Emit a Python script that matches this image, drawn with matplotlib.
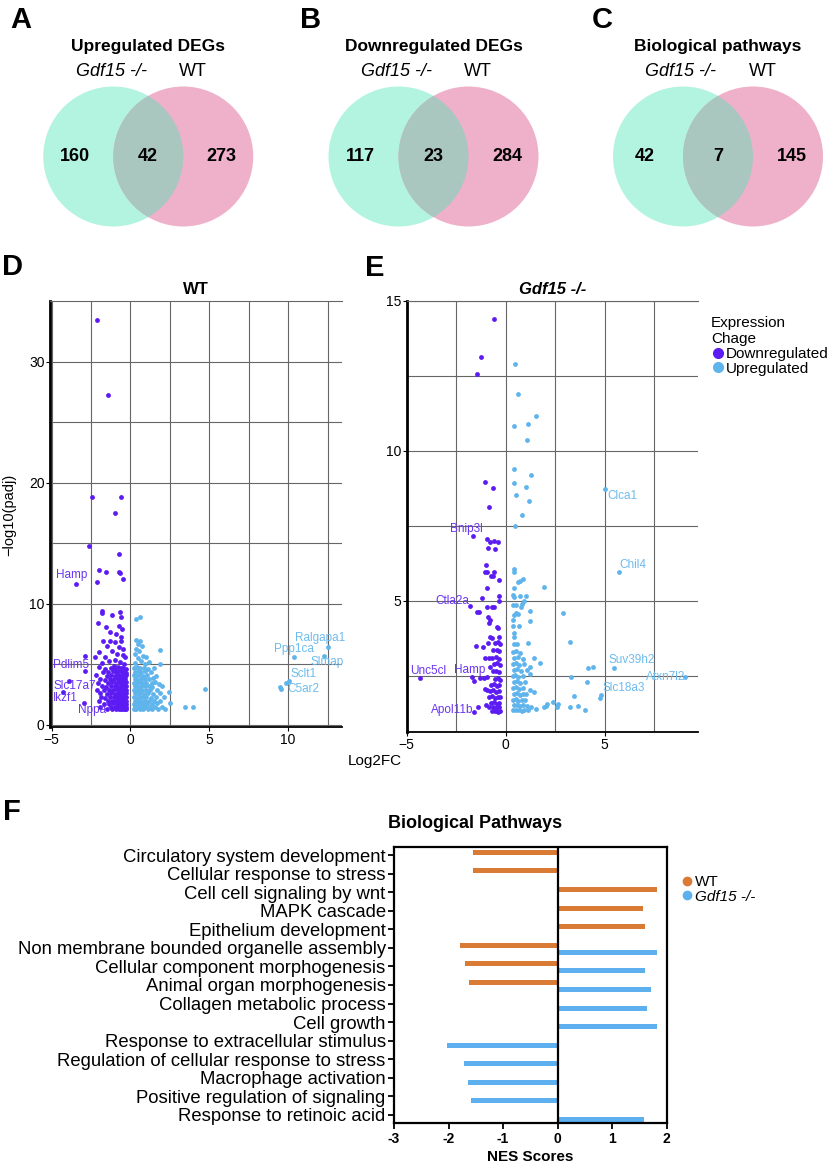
#!/usr/bin/env python3
"""Venn diagrams, volcano plots and NES bar chart for Gdf15 -/- vs WT."""

import numpy as np
import matplotlib.pyplot as plt
from matplotlib.patches import Circle
from matplotlib.lines import Line2D

plt.rcParams["font.family"] = ["Liberation Sans", "DejaVu Sans"]

# ---------------- data ----------------
# Venn counts (Gdf15 only, shared, WT only)
venn_titles = ["Upregulated DEGs", "Downregulated DEGs", "Biological pathways"]
venn_left = [160, 117, 42]
venn_shared = [42, 23, 7]
venn_right = [273, 284, 145]

# WT volcano: (log2FC, -log10 padj)
wt_down = [
    (-2.15, 33.4), (-1.39, 27.2), (-2.41, 18.85), (-0.61, 18.85), (-0.99, 17.5),
    (-2.64, 14.8), (-0.70, 14.1), (-1.99, 12.8), (-1.52, 12.65), (-0.72, 12.6),
    (-0.63, 12.55), (-2.09, 11.8), (-0.49, 12.06), (-3.43, 11.6),
    (-1.80, 9.40), (-1.83, 9.25), (-1.18, 9.07), (-0.68, 9.30), (-0.60, 8.90),
    (-2.07, 8.40), (-1.55, 8.1), (-0.70, 8.2), (-0.55, 7.9), (-1.30, 7.7),
    (-0.90, 7.5), (-0.62, 7.3), (-1.75, 6.9), (-1.30, 6.95), (-0.95, 6.85),
    (-0.58, 6.9), (-1.50, 6.5), (-0.75, 6.4), (-0.45, 6.3), (-2.00, 6.0),
    (-1.15, 6.1), (-0.85, 5.9), (-0.50, 5.8), (-1.60, 5.6), (-0.35, 5.6),
    (-1.35, 5.3), (-0.95, 5.4), (-0.65, 5.2), (-0.40, 5.0), (-1.80, 5.1),
    (-1.05, 4.9), (-2.85, 5.7), (-2.26, 5.63), (-2.89, 4.45), (-3.90, 3.65),
    (-4.27, 2.75), (-2.96, 1.84),
    (-2.0, 4.75), (-1.6, 4.65), (-1.25, 4.72), (-1.0, 4.6), (-0.8, 4.75),
    (-0.6, 4.68), (-0.45, 4.7), (-0.3, 4.62),
    (-1.75, 4.4), (-1.4, 4.35), (-1.1, 4.45), (-0.9, 4.38), (-0.7, 4.42),
    (-0.55, 4.35), (-0.4, 4.4), (-0.28, 4.33),
    (-2.2, 4.1), (-1.5, 4.05), (-1.2, 4.12), (-0.95, 4.05), (-0.8, 4.1),
    (-0.65, 4.02), (-0.5, 4.1), (-0.35, 4.05), (-0.27, 4.12),
    (-1.9, 3.8), (-1.6, 3.75), (-1.3, 3.82), (-1.05, 3.78), (-0.85, 3.85),
    (-0.7, 3.75), (-0.58, 3.8), (-0.45, 3.76), (-0.32, 3.82),
    (-2.05, 3.5), (-1.45, 3.45), (-1.15, 3.52), (-0.9, 3.48), (-0.75, 3.55),
    (-0.62, 3.45), (-0.5, 3.5), (-0.38, 3.46), (-0.27, 3.52),
    (-1.8, 3.2), (-1.55, 3.15), (-1.25, 3.22), (-1.0, 3.18), (-0.82, 3.25),
    (-0.68, 3.15), (-0.55, 3.2), (-0.42, 3.16), (-0.3, 3.22),
    (-2.15, 2.9), (-1.7, 2.85), (-1.35, 2.92), (-1.1, 2.88), (-0.9, 2.95),
    (-0.75, 2.85), (-0.6, 2.9), (-0.48, 2.86), (-0.35, 2.92), (-0.26, 2.88),
    (-1.95, 2.6), (-1.5, 2.55), (-1.2, 2.62), (-0.98, 2.58), (-0.8, 2.65),
    (-0.66, 2.55), (-0.53, 2.6), (-0.4, 2.56), (-0.29, 2.62),
    (-1.85, 2.3), (-1.6, 2.25), (-1.3, 2.32), (-1.05, 2.28), (-0.88, 2.35),
    (-0.72, 2.25), (-0.58, 2.3), (-0.45, 2.26), (-0.33, 2.32), (-0.26, 2.28),
    (-2.0, 2.0), (-1.45, 1.95), (-1.15, 2.02), (-0.95, 1.98), (-0.78, 2.05),
    (-0.63, 1.95), (-0.5, 2.0), (-0.38, 1.96), (-0.28, 2.02),
    (-1.7, 1.75), (-1.35, 1.72), (-1.08, 1.78), (-0.88, 1.74), (-0.7, 1.8),
    (-0.56, 1.72), (-0.43, 1.76), (-0.31, 1.73),
    (-1.9, 1.5), (-1.25, 1.48), (-1.0, 1.52), (-0.8, 1.5), (-0.65, 1.55),
    (-0.52, 1.47), (-0.4, 1.5), (-0.29, 1.48),
    (-1.5, 1.32), (-1.15, 1.33), (-0.92, 1.31), (-0.74, 1.34), (-0.6, 1.32),
    (-0.47, 1.33), (-0.35, 1.31), (-0.27, 1.33),
]
wt_up = [
    (0.38, 8.74), (0.59, 8.93), (1.85, 6.18), (1.90, 5.0), (1.43, 3.85),
    (1.80, 3.4), (2.43, 2.7), (2.49, 1.79), (2.21, 1.32), (3.44, 1.48),
    (4.00, 1.48), (4.70, 3.0), (12.5, 6.4), (10.4, 5.58), (12.3, 5.69),
    (10.04, 3.63), (9.87, 3.43), (9.51, 3.1), (9.55, 2.97),
    (0.38, 7.0), (0.60, 6.9), (0.45, 6.7), (0.75, 6.5), (0.35, 6.3),
    (0.55, 6.1), (1.01, 5.63), (0.30, 5.9), (0.80, 5.7), (0.45, 5.5),
    (0.65, 5.3), (1.20, 5.2), (0.30, 5.1), (0.90, 5.0),
    (0.25, 4.7), (0.4, 4.75), (0.6, 4.68), (0.85, 4.72), (1.1, 4.65), (1.5, 4.7),
    (0.3, 4.4), (0.5, 4.45), (0.7, 4.38), (0.95, 4.42), (1.3, 4.35),
    (0.22, 4.1), (0.38, 4.05), (0.55, 4.12), (0.8, 4.08), (1.05, 4.1), (1.6, 4.02),
    (0.28, 3.8), (0.45, 3.75), (0.65, 3.82), (0.9, 3.78), (1.2, 3.8),
    (0.24, 3.5), (0.4, 3.45), (0.58, 3.52), (0.78, 3.48), (1.0, 3.5),
    (1.35, 3.45), (1.55, 3.52),
    (0.3, 3.2), (0.48, 3.15), (0.68, 3.22), (0.9, 3.18), (1.15, 3.2),
    (1.4, 3.15), (2.0, 3.2),
    (0.22, 2.9), (0.38, 2.85), (0.55, 2.92), (0.75, 2.88), (0.98, 2.9),
    (1.25, 2.85), (1.7, 2.92),
    (0.28, 2.6), (0.45, 2.55), (0.62, 2.62), (0.85, 2.58), (1.1, 2.6),
    (1.45, 2.55), (1.9, 2.62),
    (0.23, 2.3), (0.4, 2.25), (0.58, 2.32), (0.78, 2.28), (1.0, 2.3),
    (1.3, 2.25), (1.65, 2.32), (2.15, 2.28),
    (0.3, 2.0), (0.48, 1.95), (0.68, 2.02), (0.9, 1.98), (1.15, 2.0),
    (1.5, 1.95), (1.85, 2.02),
    (0.24, 1.75), (0.4, 1.72), (0.6, 1.78), (0.8, 1.74), (1.05, 1.76),
    (1.35, 1.72), (1.7, 1.78),
    (0.3, 1.5), (0.48, 1.48), (0.7, 1.52), (0.95, 1.5), (1.25, 1.48),
    (1.55, 1.52), (2.0, 1.5),
    (0.22, 1.32), (0.38, 1.33), (0.58, 1.31), (0.8, 1.34), (1.1, 1.32),
    (1.4, 1.33), (1.75, 1.31),
]
wt_label_names = ["Hamp", "Pdlim5", "Slc17a7", "Ikzf1", "Nppa",
                  "Ralgapa1", "Ppp1ca", "Slmap", "Sclt1", "C5ar2"]
wt_label_x = [-4.73, -4.9, -4.9, -4.9, -3.3, 10.46, 9.09, 11.45, 10.15, 9.97]
wt_label_y = [12.34, 4.95, 3.25, 2.2, 1.2, 7.15, 6.24, 5.22, 4.18, 2.97]
wt_label_down = [True, True, True, True, True, False, False, False, False, False]

# Gdf15 -/- volcano
ko_down = [
    (-0.57, 14.39), (-1.24, 13.13), (-1.43, 12.56), (-1.06, 8.98), (-0.64, 8.76),
    (-0.84, 8.13), (-1.67, 7.18), (-0.94, 7.06), (-0.77, 6.98), (-0.60, 7.0),
    (-0.40, 6.96), (-0.87, 6.78), (-0.52, 6.73), (-0.99, 6.2), (-1.02, 5.96),
    (-0.94, 5.96), (-0.60, 5.96), (-0.65, 5.83), (-0.72, 5.83), (-0.35, 5.69),
    (-0.94, 5.43), (-1.18, 5.09), (-1.78, 4.84), (-1.44, 4.62), (-1.36, 4.62),
    (-0.94, 4.81), (-0.35, 5.17), (-0.35, 5.0), (-0.60, 4.81), (-0.69, 4.79),
    (-0.89, 4.48), (-0.77, 4.37), (-0.86, 4.28), (-0.43, 4.12), (-0.37, 4.1),
    (-0.81, 3.81), (-0.69, 3.78), (-0.32, 3.8),
    (-4.31, 2.42), (-1.62, 2.33), (-1.70, 2.48), (-1.28, 2.42), (-1.11, 2.42),
    (-0.94, 2.48), (-1.62, 1.31), (-1.41, 1.46), (-1.48, 3.5), (-1.14, 3.48),
    (-0.89, 3.6), (-1.02, 3.09), (-0.86, 3.09), (-0.77, 2.8), (-0.94, 2.03),
    (-1.02, 2.08), (-0.97, 1.53),
    (-0.55, 3.6), (-0.4, 3.62), (-0.3, 3.58),
    (-0.62, 3.35), (-0.45, 3.38), (-0.32, 3.33),
    (-0.7, 3.1), (-0.5, 3.12), (-0.35, 3.08),
    (-0.6, 2.9), (-0.42, 2.92), (-0.3, 2.88),
    (-0.65, 2.65), (-0.5, 2.68), (-0.35, 2.63),
    (-0.55, 2.4), (-0.4, 2.42), (-0.3, 2.38),
    (-0.72, 2.2), (-0.6, 2.22), (-0.45, 2.18), (-0.32, 2.21),
    (-0.8, 2.0), (-0.62, 2.02), (-0.48, 1.98), (-0.33, 2.01),
    (-0.85, 1.8), (-0.68, 1.82), (-0.52, 1.78), (-0.38, 1.81), (-0.3, 1.79),
    (-0.75, 1.6), (-0.6, 1.62), (-0.45, 1.58), (-0.32, 1.61),
    (-0.82, 1.45), (-0.65, 1.46), (-0.5, 1.44), (-0.36, 1.45),
    (-0.7, 1.32), (-0.55, 1.33), (-0.4, 1.31), (-0.3, 1.33),
]
ko_up = [
    (0.47, 12.91), (0.61, 11.91), (1.55, 11.17), (0.44, 10.83), (1.11, 10.89),
    (1.08, 10.37), (0.40, 9.4), (1.28, 9.2), (0.44, 8.94), (1.03, 8.79),
    (0.54, 8.52), (1.20, 8.33), (0.83, 7.87), (0.47, 7.5), (5.00, 8.72),
    (5.73, 5.96), (0.44, 6.06), (0.44, 5.98), (0.88, 5.72), (0.74, 5.67),
    (0.62, 5.64), (1.92, 5.48), (0.40, 5.42), (0.35, 5.2), (0.44, 5.14),
    (0.74, 5.17), (1.05, 5.15), (0.37, 4.85), (0.54, 4.87), (0.91, 5.0),
    (0.83, 4.9), (0.78, 4.8), (1.25, 4.65), (2.88, 4.59), (0.50, 4.6),
    (0.44, 4.53), (0.61, 4.56), (0.37, 4.37), (1.25, 4.33), (0.35, 4.18),
    (0.66, 4.18), (0.40, 3.92), (0.44, 3.81),
    (3.23, 3.62), (1.13, 3.6), (1.41, 3.11), (1.75, 2.92), (1.25, 2.79),
    (1.08, 2.7), (1.25, 2.56), (3.32, 2.48), (4.14, 2.76), (4.39, 2.79),
    (5.45, 2.78), (4.10, 2.31), (9.08, 2.48), (4.82, 1.87), (4.74, 1.78),
    (3.47, 1.84), (2.39, 1.64), (2.10, 1.55), (1.92, 1.46), (2.02, 1.5),
    (2.61, 1.46), (2.66, 1.55), (3.23, 1.46), (3.65, 1.5), (3.99, 1.38),
    (1.30, 1.46), (1.55, 1.41), (1.41, 1.96), (1.25, 2.03),
    (0.4, 3.55), (0.55, 3.57),
    (0.38, 3.3), (0.5, 3.32), (0.7, 3.28),
    (0.42, 3.1), (0.6, 3.12), (0.85, 3.08),
    (0.36, 2.9), (0.5, 2.92), (0.68, 2.88), (0.95, 2.91),
    (0.4, 2.7), (0.55, 2.72), (0.78, 2.68),
    (0.37, 2.5), (0.48, 2.52), (0.62, 2.48), (0.85, 2.51),
    (0.4, 2.3), (0.55, 2.32), (0.72, 2.28), (0.98, 2.31),
    (0.36, 2.1), (0.5, 2.12), (0.65, 2.08), (0.85, 2.11),
    (0.4, 1.9), (0.55, 1.92), (0.7, 1.88), (0.9, 1.91), (1.05, 1.89),
    (0.37, 1.7), (0.5, 1.72), (0.64, 1.68), (0.8, 1.71), (1.0, 1.69),
    (0.4, 1.52), (0.55, 1.53), (0.7, 1.51), (0.88, 1.52), (1.1, 1.5),
    (0.37, 1.36), (0.5, 1.35), (0.65, 1.37), (0.8, 1.34), (0.95, 1.36), (1.15, 1.35),
]
ko_label_names = ["Bnip3l", "Ctla2a", "Unc5cl", "Hamp", "Apol11b",
                  "Clca1", "Chil4", "Suv39h2", "Atxn7l2", "Slc18a3"]
ko_label_x = [-2.83, -3.55, -4.81, -2.59, -3.77, 5.15, 5.73, 5.17, 7.1, 4.87]
ko_label_y = [7.39, 5.0, 2.67, 2.7, 1.37, 8.5, 6.2, 3.03, 2.48, 2.11]
ko_label_down = [True, True, True, True, True, False, False, False, False, False]

# NES scores
pathways = [
    "Circulatory system development", "Cellular response to stress",
    "Cell cell signaling by wnt", "MAPK cascade", "Epithelium development",
    "Non membrane bounded organelle assembly", "Cellular component morphogenesis",
    "Animal organ morphogenesis", "Collagen metabolic process", "Cell growth",
    "Response to extracellular stimulus", "Regulation of cellular response to stress",
    "Macrophage activation", "Positive regulation of signaling",
    "Response to retinoic acid",
]
nes_wt = [-1.56, -1.55, 1.83, 1.56, 1.61, -1.79, -1.70, -1.62,
          np.nan, np.nan, np.nan, np.nan, np.nan, np.nan, np.nan]
nes_ko = [np.nan, np.nan, np.nan, np.nan, np.nan, 1.82, 1.61, 1.72,
          1.63, 1.83, -2.03, -1.71, -1.64, -1.59, 1.58]

# ---------------- styling ----------------
W, H = 827, 1172
mint, pink, overlap = "#B3F4E0", "#EEB1C9", "#A9C7BF"
purple, lblue = "#5B1BF2", "#5FB4EC"
purple_txt, blue_txt = "#6A35F3", "#6DBBEE"
orange, bar_blue = "#D97A35", "#5EAFEE"

fig = plt.figure(figsize=(W / 100, H / 100), dpi=100)


def px_axes(x0, y0, x1, y1):
    return fig.add_axes([x0 / W, 1 - y1 / H, (x1 - x0) / W, (y1 - y0) / H])


# ---------------- Venn diagrams ----------------
venn_mid = [148.25, 433.5, 718.0]
for i, mx in enumerate(venn_mid):
    ax = px_axes(mx - 112, 27, mx + 112, 230)
    ax.set_xlim(-1.6, 1.6)
    ax.set_ylim(-1.05, 1.85)
    ax.axis("off")
    ax.add_patch(Circle((-0.5, 0), 1, fc=mint, ec="none"))
    right = Circle((0.5, 0), 1, fc=pink, ec="none")
    ax.add_patch(right)
    ov = Circle((-0.5, 0), 1, fc=overlap, ec="none")
    ax.add_patch(ov)
    ov.set_clip_path(right)
    ax.text(0, 1.57, venn_titles[i], ha="center", va="center",
            fontsize=12.5, fontweight="bold")
    ax.text(-0.53, 1.21, "Gdf15 -/-", ha="center", va="center",
            fontsize=13, style="italic")
    ax.text(0.64, 1.21, "WT", ha="center", va="center", fontsize=13)
    for xx, val in zip([-1.05, 0.0, 1.05], [venn_left[i], venn_shared[i], venn_right[i]]):
        ax.text(xx, 0, str(val), ha="center", va="center",
                fontsize=13, fontweight="bold")

for letter, x, y in [("A", 10, 28), ("B", 300, 28), ("C", 592, 28),
                     ("D", 2, 275), ("E", 365, 276), ("F", 3, 820)]:
    fig.text(x / W, 1 - y / H, letter, fontsize=21, fontweight="bold", va="baseline")


# ---------------- volcano plots ----------------
def style_volcano(ax, xmaj, xmin, ymaj, ymin):
    ax.set_xticks(xmaj)
    ax.set_xticks(xmin, minor=True)
    ax.set_yticks(ymaj)
    ax.set_yticks(ymin, minor=True)
    ax.grid(True, which="both", color="#666666", linewidth=0.8)
    ax.set_axisbelow(True)
    ax.tick_params(which="minor", length=0)
    ax.tick_params(which="major", length=3, labelsize=10, pad=1)
    ax.spines["left"].set_linewidth(2)
    ax.spines["bottom"].set_linewidth(1.3)
    ax.spines["top"].set_color("#666666")
    ax.spines["top"].set_linewidth(0.8)
    ax.spines["right"].set_visible(False)


def add_points(ax, down, up, names, lx, ly, is_down):
    ax.scatter([p[0] for p in down], [p[1] for p in down], s=12, color=purple,
               linewidths=0, zorder=3)
    ax.scatter([p[0] for p in up], [p[1] for p in up], s=12, color=lblue,
               linewidths=0, zorder=3)
    for name, x, y, d in zip(names, lx, ly, is_down):
        ax.text(x, y, name, fontsize=8.5, va="center", ha="left",
                color=purple_txt if d else blue_txt, zorder=4)


axd = px_axes(50, 301, 341.7, 727.4)
axd.set_xlim(-5.1, 13.4)
axd.set_ylim(-0.2, 35)
style_volcano(axd, [-5, 0, 5, 10], [-2.5, 2.5, 7.5, 12.5], [0, 10, 20, 30], [5, 15, 25])
add_points(axd, wt_down, wt_up, wt_label_names, wt_label_x, wt_label_y, wt_label_down)
axd.set_title("WT", fontsize=12, fontweight="bold", pad=5)

axe = px_axes(406.7, 301, 698.3, 732)
axe.set_xlim(-5, 9.73)
axe.set_ylim(0.63, 15)
style_volcano(axe, [-5, 0, 5], [-2.5, 2.5, 7.5], [5, 10, 15], [2.5, 7.5, 12.5])
add_points(axe, ko_down, ko_up, ko_label_names, ko_label_x, ko_label_y, ko_label_down)
axe.set_title("Gdf15 -/-", fontsize=12, fontweight="bold", style="italic", pad=5)

fig.text(9 / W, 1 - 515 / H, "\u2212log10(padj)", rotation=90, ha="center",
         va="center", fontsize=10.5)
fig.text(375 / W, 1 - 761 / H, "Log2FC", ha="center", va="center", fontsize=11)

volc_handles = [
    Line2D([], [], marker="o", ls="", color=purple, markersize=7),
    Line2D([], [], marker="o", ls="", color=lblue, markersize=7),
]
leg = fig.legend(volc_handles, ["Downregulated", "Upregulated"],
                 title="Expression\nChage", loc="upper left",
                 bbox_to_anchor=(711 / W, 1 - 316 / H), frameon=False,
                 fontsize=11, title_fontsize=11, handletextpad=0.05,
                 handlelength=0.9, labelspacing=0.05, borderaxespad=0,
                 borderpad=0)
leg._legend_box.align = "left"

# ---------------- NES bar chart ----------------
axf = px_axes(394, 846.7, 666.7, 1123.3)
ypos = np.arange(len(pathways))
axf.barh(ypos - 0.145, nes_wt, height=0.27, color=orange)
axf.barh(ypos + 0.24, nes_ko, height=0.27, color=bar_blue)
axf.axvline(0, color="black", linewidth=1.6)
axf.set_xlim(-3, 2)
axf.set_ylim(len(pathways) - 0.55, -0.45)
axf.set_yticks(ypos)
axf.set_yticklabels(pathways, fontsize=13.3)
axf.set_xticks(range(-3, 3))
axf.set_xticklabels([str(v) for v in range(-3, 3)], fontweight="bold", fontsize=10)
axf.tick_params(axis="both", length=4, width=1.3, pad=2)
for sp in axf.spines.values():
    sp.set_linewidth(1.6)
axf.set_xlabel("NES Scores", fontsize=11, fontweight="bold", labelpad=3)
axf.text(0.297, 1.085, "Biological Pathways", transform=axf.transAxes,
         ha="center", va="center", fontsize=13, fontweight="bold")

bar_handles = [
    Line2D([], [], marker="o", ls="", color=orange, markersize=6),
    Line2D([], [], marker="o", ls="", color=bar_blue, markersize=6),
]
leg2 = fig.legend(bar_handles, ["WT", "Gdf15 -/-"], loc="upper left",
                  bbox_to_anchor=(680 / W, 1 - 875 / H), frameon=False,
                  fontsize=11, handletextpad=0.05, handlelength=0.9,
                  labelspacing=0.05, borderaxespad=0, borderpad=0)
leg2.get_texts()[1].set_style("italic")

fig.savefig("out.png", dpi=100)
